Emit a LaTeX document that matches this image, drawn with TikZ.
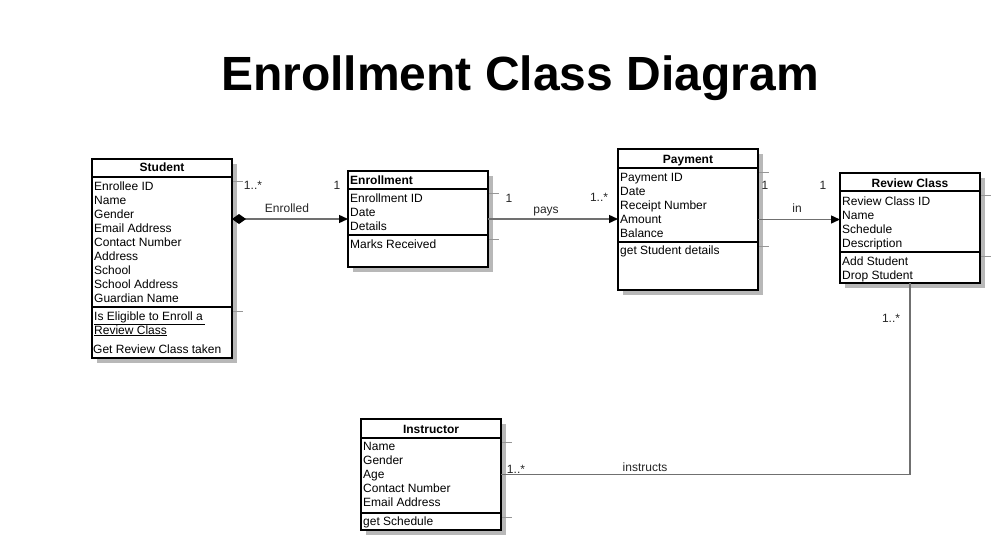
\documentclass[tikz,border=0pt]{standalone}
\usepackage{fontspec}
\setmainfont{Liberation Sans}
\usetikzlibrary{arrows.meta,calc}
\definecolor{cshadow}{RGB}{184,184,184}
\definecolor{cline}{RGB}{112,112,112}
\definecolor{ctick}{RGB}{150,150,150}

% one class box: #1 name, #2 x, #3 y, #4 width, #5 height, #6 first rule, #7 second rule
\newcommand{\umlclass}[7]{%
  \fill[cshadow] (#2+5,#3+5) rectangle ++(#4,#5);
  \draw[shadowtick] (#2+#4,#3+#6+4) -- ++(11,0);
  \draw[shadowtick] (#2+#4,#3+#7+4) -- ++(11,0);
  \node[classbox, minimum width=#4, minimum height=#5, anchor=north west] (#1) at (#2,#3) {};
  \draw[sepline] (#1.north west) ++(0,#6) -- ++(#4,0);
  \draw[sepline] (#1.north west) ++(0,#7) -- ++(#4,0);
}

\tikzset{
  classbox/.style={draw=black, line width=2pt, fill=white, inner sep=0pt, outer sep=0pt},
  sepline/.style={black, line width=1.5pt},
  shadowtick/.style={ctick, line width=0.5pt},
  attr/.style={anchor=base west, inner sep=0pt, font=\fontsize{12}{14}\selectfont},
  ctitle/.style={anchor=base, inner sep=0pt, font=\fontsize{12}{14}\selectfont\bfseries},
  mult/.style={inner sep=0pt, font=\fontsize{12}{14}\selectfont, text=black!85},
  assoc/.style={cline, line width=1.4pt},
  toarrow/.style={assoc, -{Triangle[length=9pt,width=8pt,color=black]}},
  composite/.style={assoc, {Diamond[length=14pt,width=10pt,color=black]}-{Triangle[length=9pt,width=8pt,color=black]}},
}

\begin{document}
\begin{tikzpicture}[x=1pt, y=-1pt]
  \useasboundingbox[fill=white] (0,0) rectangle (1002,552);

  \node[anchor=base, inner sep=0pt, font=\fontsize{48}{52}\selectfont\bfseries] (title) at (520,90) {Enrollment Class Diagram};

  % classes
  \umlclass{student}{92}{159}{140}{199}{18}{148}
  \umlclass{enroll}{348}{171}{140}{96}{18}{64}
  \umlclass{payment}{618}{149}{140}{141}{19}{93}
  \umlclass{review}{840}{173}{140}{110}{18}{79}
  \umlclass{instr}{361}{419}{140}{111}{19}{94}

  % Student
  \node[ctitle] (stu-t) at (162,171.5) {Student};
  \foreach \t [count=\i from 0] in {Enrollee ID,Name,Gender,Email Address,Contact Number,Address,School,School Address,Guardian Name}
    \node[attr] (stu-a\i) at (94,190+14*\i) {\t};
  \node[attr] (stu-m1) at (94,320) {\underline{Is Eligible to Enroll a\,}};
  \node[attr] (stu-m2) at (94,334) {\underline{Review Class}};
  \node[attr] (stu-m3) at (93,353) {Get Review Class taken};

  % Enrollment
  \node[ctitle, anchor=base west] (enr-t) at (350,184) {Enrollment};
  \foreach \t [count=\i from 0] in {Enrollment ID,Date,Details}
    \node[attr] (enr-a\i) at (350,202+14*\i) {\t};
  \node[attr] (enr-m1) at (350,248) {Marks Received};

  % Payment
  \node[ctitle] (pay-t) at (688,163) {Payment};
  \foreach \t [count=\i from 0] in {Payment ID,Date,Receipt Number,Amount,Balance}
    \node[attr] (pay-a\i) at (620,181+14*\i) {\t};
  \node[attr] (pay-m1) at (620,254) {get Student details};

  % Review Class
  \node[ctitle] (rev-t) at (910,187) {Review Class};
  \foreach \t [count=\i from 0] in {Review Class ID,Name,Schedule,Description}
    \node[attr] (rev-a\i) at (842,205+14*\i) {\t};
  \node[attr] (rev-m1) at (842,265) {Add Student};
  \node[attr] (rev-m2) at (842,279) {Drop Student};

  % Instructor
  \node[ctitle] (ins-t) at (431,433) {Instructor};
  \foreach \t [count=\i from 0] in {Name,Gender,Age,Contact Number,Email Address}
    \node[attr] (ins-a\i) at (363,450+14*\i) {\t};
  \node[attr] (ins-m1) at (363,525) {get Schedule};

  % associations
  \draw[composite] (student.east |- enroll.west) -- (enroll.west);
  \draw[toarrow] (enroll.east) -- (payment.west |- enroll.east);
  \draw[toarrow] (payment.east) -- (review.west |- payment.east);
  \draw[assoc] (review.south) -- (review.south |- instr.east) -- (instr.east);

  % multiplicities and names
  \node[mult] (m-se1) at (253,185) {1..*};
  \node[mult] (m-se2) at (337,185) {1};
  \node[mult] (l-se) at (287,208) {Enrolled};
  \node[mult] (m-ep1) at (509,198) {1};
  \node[mult] (m-ep2) at (599,197) {1..*};
  \node[mult] (l-ep) at (546,212) {pays};
  \node[mult] (m-pr1) at (765,185) {1};
  \node[mult] (m-pr2) at (823,185) {1};
  \node[mult] (l-pr) at (797,208) {in};
  \node[mult] (m-ri1) at (891,318) {1..*};
  \node[mult] (m-ri2) at (516,469) {1..*};
  \node[mult] (l-ri) at (645,467) {instructs};
\end{tikzpicture}
\end{document}
